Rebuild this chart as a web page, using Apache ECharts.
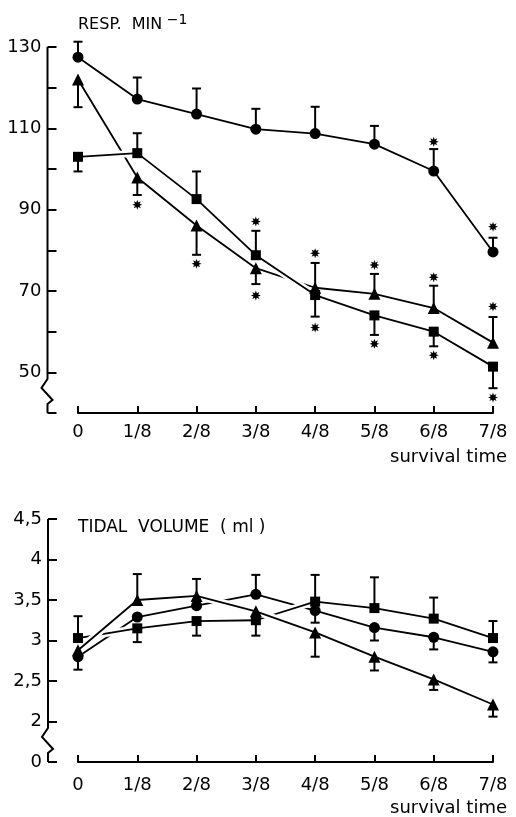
<!DOCTYPE html>
<html>
<head>
<meta charset="utf-8">
<title>Respiration rate and tidal volume</title>
<script src="https://cdn.jsdelivr.net/npm/echarts@6.0.0/dist/echarts.min.js"></script>
<style>
  html, body { margin: 0; padding: 0; background: #fff; }
  #chart { width: 516px; height: 817px; }
</style>
</head>
<body>
<div id="chart"></div>
<script>
// survival time fractions
const categories = ['0', '1/8', '2/8', '3/8', '4/8', '5/8', '6/8', '7/8'];

// RESP. MIN-1 (upper panel)
const respCircle = [127.5, 117.2, 113.5, 109.8, 108.7, 106.1, 99.5, 79.6];
const respCircleErr = [131.3, 122.5, 119.8, 114.8, 115.3, 110.6, 104.9, 83.1];
const respTriangle = [122, 97.9, 86.1, 75.6, 70.8, 69.3, 65.8, 57.3];
const respTriangleErr = [115.2, 93.6, 78.9, 71.7, 76.9, 74.2, 71.3, 63.6];
const respSquare = [103.0, 103.9, 92.6, 78.8, 69.0, 64.0, 60.0, 51.4];
const respSquareErr = [99.4, 108.8, 99.4, 84.8, 63.7, 59.2, 56.4, 46.1];
// significance asterisks [category index, value]
const respStars = [[1, 91.2], [2, 76.7], [3, 87.1], [3, 68.9], [4, 79.3], [4, 61.0],
  [5, 76.4], [5, 57.0], [6, 106.7], [6, 73.4], [6, 54.2], [7, 85.8], [7, 66.2], [7, 43.8]];

// TIDAL VOLUME (ml) (lower panel)
const tidalCircle = [2.80, 3.29, 3.43, 3.57, 3.37, 3.16, 3.04, 2.86];
const tidalCircleErr = [2.64, null, null, 3.81, 3.22, 3.00, 2.89, 2.73];
const tidalTriangle = [2.88, 3.50, 3.55, 3.36, 3.10, 2.80, 2.52, 2.21];
const tidalTriangleErr = [null, 3.82, 3.76, null, 2.80, 2.63, 2.39, 2.06];
const tidalSquare = [3.03, 3.15, 3.24, 3.25, 3.48, 3.40, 3.27, 3.03];
const tidalSquareErr = [3.30, 2.98, 3.06, 3.06, 3.81, 3.78, 3.53, 3.24];

const FONT = 'DejaVu Sans';
const SIZES = { circle: 11, rect: 10, triangle: 12 };

// spiky asterisk shape
function starPath() {
  let d = '';
  for (let k = 0; k < 16; k++) {
    const a = k * Math.PI / 8 - Math.PI / 2;
    const r = k % 2 ? 5 : 10;
    d += (k ? 'L' : 'M') + (10 + r * Math.cos(a)).toFixed(2) + ' ' + (10 + r * Math.sin(a)).toFixed(2) + ' ';
  }
  return 'path://' + d + 'Z';
}

// a curve; the white halo under it makes the printed "gap" where lines cross
function curve(idx, data, z, halo) {
  const out = [];
  if (halo) {
    out.push({
      type: 'line', xAxisIndex: idx, yAxisIndex: idx, data: data,
      showSymbol: false, silent: true,
      lineStyle: { color: '#fff', width: 7 }, z: z
    });
  }
  out.push({
    type: 'line', xAxisIndex: idx, yAxisIndex: idx, data: data,
    showSymbol: false,
    lineStyle: { color: '#000', width: 1.8 }, z: z + 0.5
  });
  return out;
}

function markers(idx, data, symbol) {
  return {
    type: 'scatter', xAxisIndex: idx, yAxisIndex: idx,
    data: data.map((v, i) => [i, v]),
    symbol: symbol, symbolSize: SIZES[symbol],
    itemStyle: { color: '#000', opacity: 1 },
    z: 12
  };
}

// error bars: line from mean to err end with a cap
function errSeries(idx, values, errs) {
  const data = values.map((v, i) => [i, v, errs[i]]).filter(d => d[2] != null);
  return {
    type: 'custom',
    xAxisIndex: idx,
    yAxisIndex: idx,
    data: data,
    encode: { x: 0, y: [1, 2] },
    z: 11,
    renderItem: function (params, api) {
      const p0 = api.coord([api.value(0), api.value(1)]);
      const p1 = api.coord([api.value(0), api.value(2)]);
      const st = { stroke: '#000', lineWidth: 2 };
      return {
        type: 'group',
        children: [
          { type: 'line', shape: { x1: p0[0], y1: p0[1], x2: p1[0], y2: p1[1] }, style: st },
          { type: 'line', shape: { x1: p1[0] - 4.5, y1: p1[1], x2: p1[0] + 4.5, y2: p1[1] }, style: st }
        ]
      };
    }
  };
}

function xAxis(idx, margin) {
  return {
    type: 'category',
    gridIndex: idx,
    data: categories,
    boundaryGap: false,
    axisLine: { lineStyle: { color: '#000', width: 2 } },
    axisTick: { inside: true, length: 7, lineStyle: { color: '#000', width: 2 } },
    axisLabel: { color: '#000', fontFamily: FONT, fontSize: 18, margin: margin },
    splitLine: { show: false }
  };
}

let chart = echarts.init(document.getElementById('chart'));
chart.setOption({
  animation: false,
  backgroundColor: '#fff',
  title: [
    {
      text: '{m|RESP.  MIN}{s| −1}',
      left: 78, top: 13, padding: 0,
      textStyle: {
        rich: {
          m: { fontFamily: FONT, fontSize: 16, fontWeight: 'normal', color: '#000', lineHeight: 20, verticalAlign: 'bottom' },
          s: { fontFamily: FONT, fontSize: 14, fontWeight: 'normal', color: '#000', lineHeight: 20, verticalAlign: 'top' }
        }
      }
    },
    {
      text: 'TIDAL  VOLUME  ( ml )',
      left: 78, top: 519, padding: 0,
      textStyle: { fontFamily: FONT, fontSize: 17, fontWeight: 'normal', color: '#000' }
    },
    {
      text: 'survival time',
      right: 9, top: 448, padding: 0,
      textStyle: { fontFamily: FONT, fontSize: 18, fontWeight: 'normal', color: '#000' }
    },
    {
      text: 'survival time',
      right: 9, top: 799, padding: 0,
      textStyle: { fontFamily: FONT, fontSize: 18, fontWeight: 'normal', color: '#000' }
    }
  ],
  grid: [
    { left: 78, right: 23, top: 47, height: 366 },
    { left: 78, right: 23, top: 519, height: 243 }
  ],
  xAxis: [xAxis(0, 10), xAxis(1, 14)],
  yAxis: [
    {
      type: 'value',
      gridIndex: 0,
      min: 40, max: 130, interval: 10,
      offset: 30.5,
      axisLine: { show: false },
      axisTick: { show: true, inside: true, length: 9, lineStyle: { color: '#000', width: 2 } },
      axisLabel: {
        color: '#000', fontFamily: FONT, fontSize: 18, margin: 6,
        formatter: v => ((v - 50) % 20 === 0 ? String(v) : '')
      },
      splitLine: { show: false }
    },
    {
      type: 'value',
      gridIndex: 1,
      min: 1.5, max: 4.5, interval: 0.5,
      offset: 30,
      axisLine: { show: false },
      axisTick: { show: true, inside: true, length: 9, lineStyle: { color: '#000', width: 2 } },
      axisLabel: {
        color: '#000', fontFamily: FONT, fontSize: 18, margin: 6,
        // broken axis: bottom tick stands for 0
        formatter: v => (v === 1.5 ? '0' : String(v).replace('.', ','))
      },
      splitLine: { show: false }
    }
  ],
  series: [
    // upper panel: triangle line lies under the square line
    ...curve(0, respTriangle, 3, false),
    ...curve(0, respSquare, 4, true),
    ...curve(0, respCircle, 5, false),
    errSeries(0, respCircle, respCircleErr),
    errSeries(0, respTriangle, respTriangleErr),
    errSeries(0, respSquare, respSquareErr),
    markers(0, respTriangle, 'triangle'),
    markers(0, respSquare, 'rect'),
    markers(0, respCircle, 'circle'),
    {
      type: 'scatter',
      xAxisIndex: 0,
      yAxisIndex: 0,
      data: respStars,
      symbol: starPath(),
      symbolSize: 10,
      itemStyle: { color: '#000', opacity: 1 },
      z: 12
    },
    // lower panel
    ...curve(1, tidalCircle, 3, false),
    ...curve(1, tidalSquare, 4, true),
    ...curve(1, tidalTriangle, 5, true),
    errSeries(1, tidalCircle, tidalCircleErr),
    errSeries(1, tidalTriangle, tidalTriangleErr),
    errSeries(1, tidalSquare, tidalSquareErr),
    markers(1, tidalCircle, 'circle'),
    markers(1, tidalTriangle, 'triangle'),
    markers(1, tidalSquare, 'rect')
  ]
});

// y axis lines with the zigzag break near the bottom
function brokenAxis(gridIndex, yMax, yMin, offset) {
  const top = chart.convertToPixel({ gridIndex: gridIndex }, [0, yMax]);
  const bot = chart.convertToPixel({ gridIndex: gridIndex }, [0, yMin]);
  const x = top[0] - offset;
  const b = bot[1];
  return {
    type: 'polyline',
    shape: {
      points: [[x, top[1]], [x, b - 34], [x - 6, b - 25], [x + 5, b - 13], [x, b - 9], [x, b]]
    },
    style: { stroke: '#000', lineWidth: 2, fill: null },
    z: 10
  };
}

chart.setOption({
  graphic: [
    brokenAxis(0, 130, 40, 30.5),
    brokenAxis(1, 4.5, 1.5, 30)
  ]
});
</script>
</body>
</html>
